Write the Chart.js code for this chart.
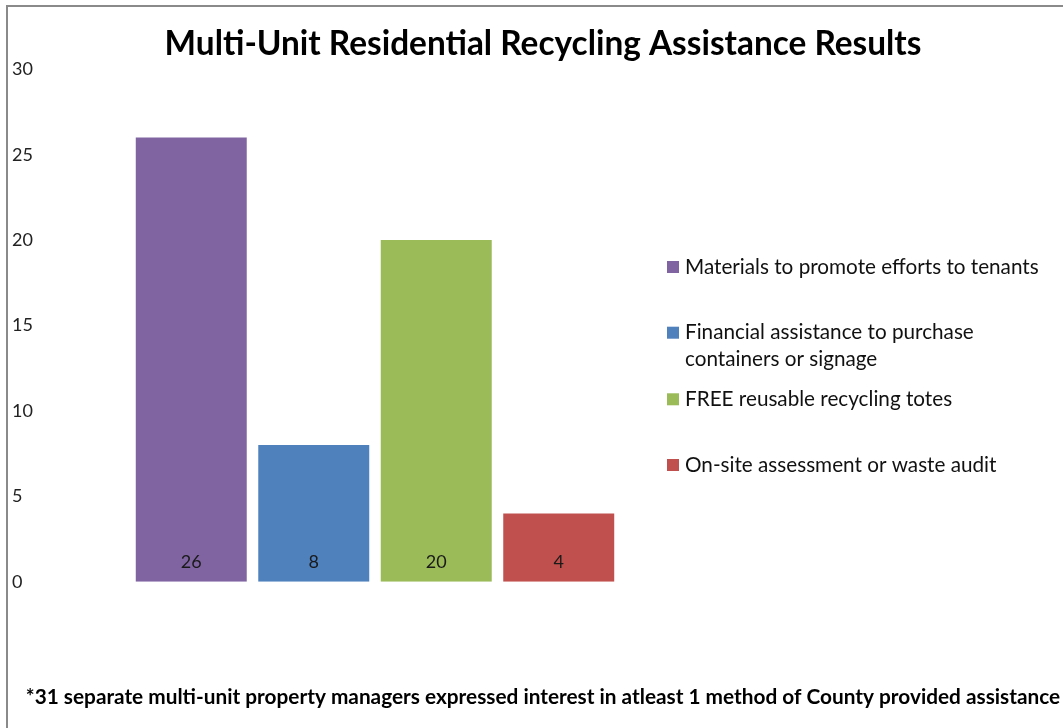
<!DOCTYPE html>
<html><head><meta charset="utf-8">
<script src="https://cdn.jsdelivr.net/npm/chart.js@4"></script>
<style>
html,body{margin:0;padding:0;background:#fff;overflow:hidden;width:1063px;height:728px}
#frame{position:absolute;left:6px;top:5px;width:1080px;height:760px;border-left:2px solid #8a8a8a;border-top:2px solid #8a8a8a;}
#c{position:absolute;left:8px;top:7px;}
</style></head><body>
<div id="frame"></div>
<canvas id="c" width="1066" height="721"></canvas>
<script>
const categories = ['Results'];
const seriesNames = [
  ['Materials to promote efforts to tenants'],
  ['Financial assistance to purchase', 'containers or signage'],
  ['FREE reusable recycling totes'],
  ['On-site assessment or waste audit']
];
const seriesValues = [26, 8, 20, 4];
const seriesColors = ['#8064A2', '#4F81BD', '#9BBB59', '#C0504D'];
const yTickValues = [0, 5, 10, 15, 20, 25, 30];
const titleText = 'Multi-Unit Residential Recycling Assistance Results';
const footnoteText = '*31 separate multi-unit property managers expressed interest in atleast 1 method of County provided assistance';

const FAMILY = 'Lato';
function fitSize(text, weight, target) {
  const ctx = document.createElement('canvas').getContext('2d');
  ctx.font = weight + ' 100px ' + FAMILY;
  return 100 * target / ctx.measureText(text).width;
}
const titleSize = fitSize(titleText, 'bold', 757);
const footSize = fitSize(footnoteText, 'bold', 1035);
const legendSize = fitSize(seriesNames[0][0], 'normal', 354);

const tLH = titleSize * 1.2;
const tTop = 37.5 - tLH / 2;
const tBottom = 62.3 - (tTop + tLH);
const fLH = footSize * 1.2;
const fBottom = 721 - 690 - fLH / 2;
const fTop = 721 - fBottom - fLH - 574.7;

const legendPos = [260, 325.7, 392.3, 458];

const legendPlugin = {
  id: 'customLegend',
  afterDraw(chart) {
    const ctx = chart.ctx;
    ctx.save();
    ctx.font = legendSize + 'px ' + FAMILY;
    ctx.textBaseline = 'middle';
    ctx.textAlign = 'left';
    chart.data.datasets.forEach((ds, i) => {
      const y = legendPos[i];
      ctx.fillStyle = ds.backgroundColor;
      ctx.fillRect(659, y - 6, 12, 12);
      ctx.fillStyle = '#111';
      seriesNames[i].forEach((line, j) => ctx.fillText(line, 677, y + j * 26.3));
    });
    ctx.restore();
  }
};

const valueLabelPlugin = {
  id: 'valueLabels',
  afterDatasetsDraw(chart) {
    const ctx = chart.ctx;
    ctx.save();
    ctx.font = '18px ' + FAMILY;
    ctx.fillStyle = '#1a1a1a';
    ctx.textAlign = 'center';
    ctx.textBaseline = 'middle';
    chart.data.datasets.forEach((ds, i) => {
      const meta = chart.getDatasetMeta(i);
      meta.data.forEach((bar, j) => {
        ctx.fillText(String(ds.data[j]), bar.x, bar.base - 19.7);
      });
    });
    ctx.restore();
  }
};

new Chart(document.getElementById('c'), {
  type: 'bar',
  data: {
    labels: categories,
    datasets: seriesNames.map((n, i) => ({
      label: n.join(' '),
      data: [seriesValues[i]],
      backgroundColor: seriesColors[i],
      borderWidth: 0,
      categoryPercentage: 0.7313,
      barPercentage: 0.906
    }))
  },
  options: {
    responsive: false,
    animation: false,
    layout: { padding: { left: 4, right: 0, top: 0, bottom: 0 } },
    plugins: {
      legend: { display: false },
      tooltip: { enabled: false },
      title: {
        display: true, text: titleText, color: '#000',
        font: { family: FAMILY, size: titleSize, weight: 'bold', lineHeight: 1.2 },
        padding: { top: tTop, bottom: tBottom }
      },
      subtitle: {
        display: true, position: 'bottom', text: footnoteText, color: '#000',
        font: { family: FAMILY, size: footSize, weight: 'bold', lineHeight: 1.2 },
        padding: { top: fTop, bottom: fBottom }
      }
    },
    scales: {
      x: { display: false },
      y: {
        min: 0, max: 30,
        afterBuildTicks(scale) { scale.ticks = yTickValues.map(v => ({ value: v })); },
        afterFit(scale) { scale.width = 28; },
        grid: { display: false },
        border: { display: false },
        ticks: { crossAlign: 'far', color: '#222', padding: 0, font: { family: FAMILY, size: 18 } }
      },
      yRight: {
        position: 'right', min: 0, max: 30,
        afterFit(scale) { scale.width = 364; },
        grid: { display: false },
        border: { display: false },
        ticks: { display: false }
      }
    }
  },
  plugins: [legendPlugin, valueLabelPlugin]
});
</script>
</body></html>
